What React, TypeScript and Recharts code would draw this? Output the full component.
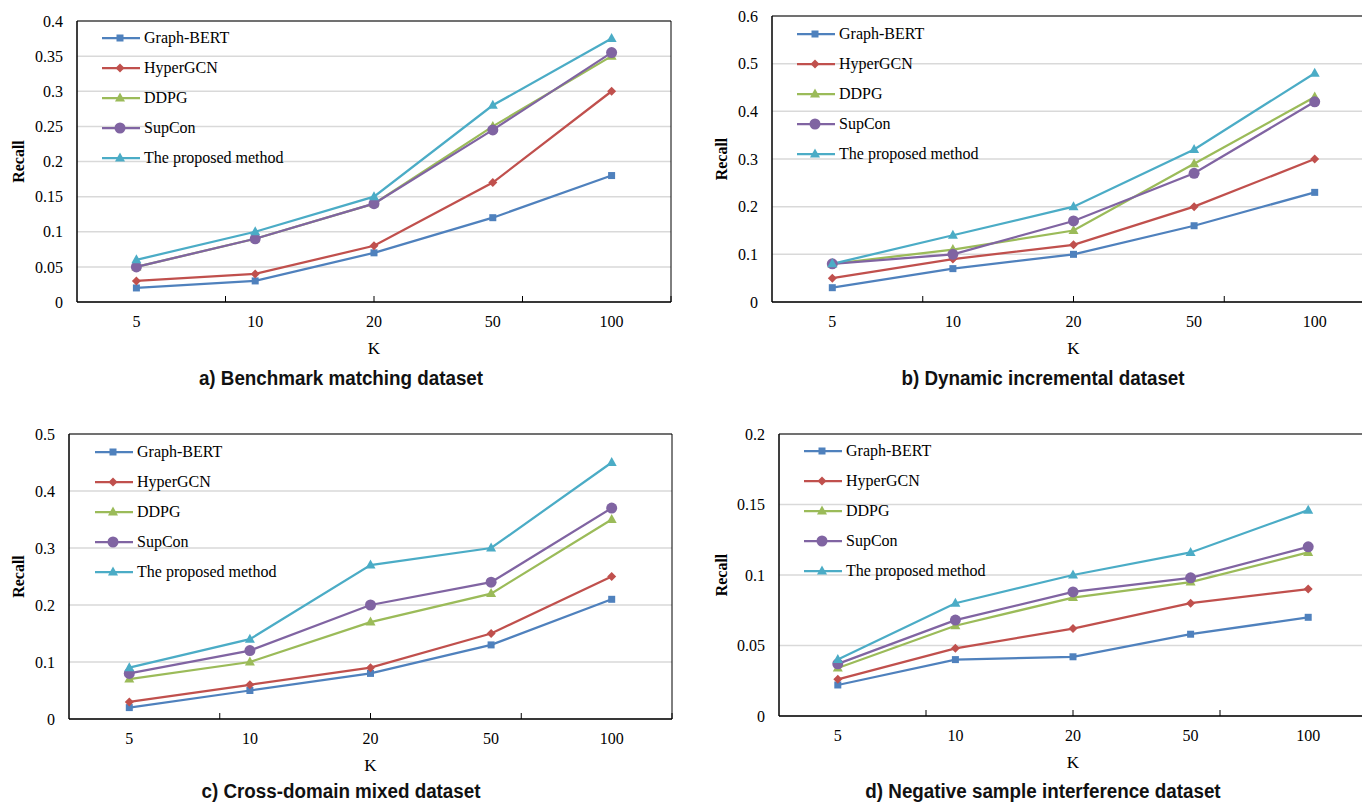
import React from 'react'
import {
  LineChart,
  Line,
  XAxis,
  YAxis,
  CartesianGrid,
  Legend,
  ReferenceArea,
  Label
} from 'recharts'

// K values on the x axis
const categories = ['5', '10', '20', '50', '100']
const seriesNames = ['Graph-BERT', 'HyperGCN', 'DDPG', 'SupCon', 'The proposed method']

// a) Benchmark matching dataset
const benchGraphBert = [0.02, 0.03, 0.07, 0.12, 0.18]
const benchHyperGcn = [0.03, 0.04, 0.08, 0.17, 0.3]
const benchDdpg = [0.05, 0.09, 0.14, 0.25, 0.35]
const benchSupCon = [0.05, 0.09, 0.14, 0.245, 0.355]
const benchProposed = [0.06, 0.1, 0.15, 0.28, 0.375]
const benchTicks = [0, 0.05, 0.1, 0.15, 0.2, 0.25, 0.3, 0.35, 0.4]

// b) Dynamic incremental dataset
const dynGraphBert = [0.03, 0.07, 0.1, 0.16, 0.23]
const dynHyperGcn = [0.05, 0.09, 0.12, 0.2, 0.3]
const dynDdpg = [0.08, 0.11, 0.15, 0.29, 0.43]
const dynSupCon = [0.08, 0.1, 0.17, 0.27, 0.42]
const dynProposed = [0.08, 0.14, 0.2, 0.32, 0.48]
const dynTicks = [0, 0.1, 0.2, 0.3, 0.4, 0.5, 0.6]

// c) Cross-domain mixed dataset
const crossGraphBert = [0.02, 0.05, 0.08, 0.13, 0.21]
const crossHyperGcn = [0.03, 0.06, 0.09, 0.15, 0.25]
const crossDdpg = [0.07, 0.1, 0.17, 0.22, 0.35]
const crossSupCon = [0.08, 0.12, 0.2, 0.24, 0.37]
const crossProposed = [0.09, 0.14, 0.27, 0.3, 0.45]
const crossTicks = [0, 0.1, 0.2, 0.3, 0.4, 0.5]

// d) Negative sample interference dataset
const negGraphBert = [0.022, 0.04, 0.042, 0.058, 0.07]
const negHyperGcn = [0.026, 0.048, 0.062, 0.08, 0.09]
const negDdpg = [0.034, 0.064, 0.084, 0.095, 0.116]
const negSupCon = [0.037, 0.068, 0.088, 0.098, 0.12]
const negProposed = [0.04, 0.08, 0.1, 0.116, 0.146]
const negTicks = [0, 0.05, 0.1, 0.15, 0.2]

const SERIF = '"Liberation Serif", "Times New Roman", serif'
const TITLE_FONT = '"Liberation Sans", Arial, sans-serif'

const seriesStyle = [
  { color: '#4F81BD', shape: 'square' },
  { color: '#C0504D', shape: 'diamond' },
  { color: '#9BBB59', shape: 'triangle' },
  { color: '#8064A2', shape: 'circle' },
  { color: '#4BACC6', shape: 'triangle' }
]

const bandCenters = categories.map((_, i) => i + 0.5)
const bandEdges = [1, 2, 3, 4]

const buildRows = (series: number[][]) =>
  categories.map((k, i) => {
    const row: Record<string, number | string> = { pos: i + 0.5, k }
    series.forEach((s, j) => {
      row[`s${j}`] = s[i]
    })
    return row
  })

const Marker = ({ cx, cy, shape, color }: any) => {
  if (cx == null || cy == null) return null
  if (shape === 'square')
    return <rect x={cx - 3.5} y={cy - 3.5} width={7} height={7} fill={color} />
  if (shape === 'diamond')
    return (
      <polygon
        points={`${cx},${cy - 4.5} ${cx + 4.5},${cy} ${cx},${cy + 4.5} ${cx - 4.5},${cy}`}
        fill={color}
      />
    )
  if (shape === 'triangle')
    return (
      <polygon
        points={`${cx},${cy - 5.5} ${cx + 5},${cy + 3.5} ${cx - 5},${cy + 3.5}`}
        fill={color}
      />
    )
  return <circle cx={cx} cy={cy} r={5.5} fill={color} />
}

const LegendBox = () => (
  <div style={{ fontFamily: SERIF, fontSize: 16, color: '#000' }}>
    {seriesNames.map((name, i) => (
      <div key={name} style={{ display: 'flex', alignItems: 'center', height: 30 }}>
        <svg width={38} height={14} style={{ display: 'block' }}>
          <line x1={0} y1={7} x2={38} y2={7} stroke={seriesStyle[i].color} strokeWidth={2.25} />
          <Marker cx={18} cy={7} shape={seriesStyle[i].shape} color={seriesStyle[i].color} />
        </svg>
        <span style={{ marginLeft: 4, whiteSpace: 'nowrap' }}>{name}</span>
      </div>
    ))}
  </div>
)

const fmt = (v: number) => String(+v.toFixed(2))

type TPanel = {
  series: number[][]
  ticks: number[]
  left: number
  top: number
  width: number
  height: number
  margin: { top: number; right: number; bottom: number; left: number }
  legendPos: { left: number; top: number }
  recallX: number
}

const Panel = ({ series, ticks, left, top, width, height, margin, legendPos, recallX }: TPanel) => {
  const rows = buildRows(series)
  const yMax = ticks[ticks.length - 1]
  return (
    <div style={{ position: 'absolute', left, top }}>
      <LineChart width={width} height={height} data={rows} margin={margin}>
        <CartesianGrid vertical={false} stroke="#d9d9d9" strokeWidth={1.5} />
        <XAxis
          dataKey="pos"
          type="number"
          domain={[0, 5]}
          ticks={bandCenters}
          tickFormatter={(v) => categories[Math.floor(v)]}
          tickLine={false}
          tickSize={0}
          tickMargin={14}
          height={60}
          axisLine={{ stroke: '#000' }}
          tick={{ fontSize: 16, fill: '#000', fontFamily: SERIF }}
          interval={0}
        >
          <Label
            content={({ viewBox }: any) => (
              <text
                x={viewBox.x + viewBox.width / 2}
                y={viewBox.y + 46}
                textAnchor="middle"
                dominantBaseline="central"
                fontFamily={SERIF}
                fontSize={17}
                fill="#000"
              >
                K
              </text>
            )}
          />
        </XAxis>
        <XAxis
          xAxisId="edges"
          type="number"
          domain={[0, 5]}
          ticks={bandEdges}
          mirror
          height={1}
          tickSize={6}
          tickFormatter={() => ''}
          axisLine={false}
          tickLine={{ stroke: '#000' }}
        />
        <YAxis
          domain={[0, yMax]}
          ticks={ticks}
          tickFormatter={fmt}
          width={60}
          tickLine={false}
          tickSize={0}
          tickMargin={14}
          axisLine={{ stroke: '#000' }}
          tick={{ fontSize: 16, fill: '#000', fontFamily: SERIF }}
          interval={0}
        >
          <Label
            content={({ viewBox }: any) => {
              const cy = viewBox.y + viewBox.height / 2
              return (
                <text
                  x={recallX}
                  y={cy}
                  transform={`rotate(-90, ${recallX}, ${cy})`}
                  textAnchor="middle"
                  dominantBaseline="central"
                  fontFamily={SERIF}
                  fontWeight="bold"
                  fontSize={16}
                  fill="#000"
                >
                  Recall
                </text>
              )
            }}
          />
        </YAxis>
        <YAxis
          yAxisId="inner"
          domain={[0, yMax]}
          ticks={ticks}
          mirror
          width={1}
          tickSize={5}
          tickFormatter={() => ''}
          axisLine={false}
          tickLine={{ stroke: '#000' }}
        />
        <ReferenceArea x1={0} x2={5} y1={0} y2={yMax} fill="none" stroke="#000" strokeWidth={1} />
        {series.map((_, i) => (
          <Line
            key={i}
            dataKey={`s${i}`}
            name={seriesNames[i]}
            stroke={seriesStyle[i].color}
            strokeWidth={2.25}
            isAnimationActive={false}
            dot={(p: any) => (
              <Marker
                key={`d${i}-${p.index}`}
                cx={p.cx}
                cy={p.cy}
                shape={seriesStyle[i].shape}
                color={seriesStyle[i].color}
              />
            )}
            activeDot={false}
          />
        ))}
        <Legend
          layout="vertical"
          align="center"
          verticalAlign="middle"
          wrapperStyle={{ left: legendPos.left, top: legendPos.top, width: 'auto', height: 'auto' }}
          content={() => <LegendBox />}
        />
      </LineChart>
    </div>
  )
}

const Title = ({ x, y, text }: { x: number; y: number; text: string }) => (
  <div
    style={{
      position: 'absolute',
      left: x - 250,
      top: y - 14,
      width: 500,
      textAlign: 'center',
      fontFamily: TITLE_FONT,
      fontWeight: 'bold',
      fontSize: 20,
      lineHeight: '28px',
      color: '#111',
      transform: 'scaleX(0.94)'
    }}
  >
    {text}
  </div>
)

export default function App() {
  return (
    <div
      style={{
        position: 'absolute',
        left: 0,
        top: 0,
        width: 1362,
        height: 805,
        background: '#fff',
        overflow: 'hidden'
      }}
    >
      <Panel
        series={[benchGraphBert, benchHyperGcn, benchDdpg, benchSupCon, benchProposed]}
        ticks={benchTicks}
        left={0}
        top={0}
        width={680}
        height={400}
        margin={{ top: 21, right: 9, bottom: 38, left: 17 }}
        legendPos={{ left: 102, top: 23 }}
        recallX={18}
      />
      <Panel
        series={[dynGraphBert, dynHyperGcn, dynDdpg, dynSupCon, dynProposed]}
        ticks={dynTicks}
        left={680}
        top={0}
        width={682}
        height={400}
        margin={{ top: 16, right: -13, bottom: 38, left: 32 }}
        legendPos={{ left: 117, top: 19 }}
        recallX={41}
      />
      <Panel
        series={[crossGraphBert, crossHyperGcn, crossDdpg, crossSupCon, crossProposed]}
        ticks={crossTicks}
        left={0}
        top={410}
        width={680}
        height={395}
        margin={{ top: 24, right: 8, bottom: 26, left: 9 }}
        legendPos={{ left: 95, top: 27 }}
        recallX={18}
      />
      <Panel
        series={[negGraphBert, negHyperGcn, negDdpg, negSupCon, negProposed]}
        ticks={negTicks}
        left={680}
        top={410}
        width={682}
        height={395}
        margin={{ top: 24, right: -5, bottom: 29, left: 39 }}
        legendPos={{ left: 124, top: 26 }}
        recallX={41}
      />
      <Title x={341} y={378} text="a) Benchmark matching dataset" />
      <Title x={1043} y={378} text="b) Dynamic incremental dataset" />
      <Title x={341} y={791} text="c) Cross-domain mixed dataset" />
      <Title x={1043} y={791} text="d) Negative sample interference dataset" />
    </div>
  )
}
